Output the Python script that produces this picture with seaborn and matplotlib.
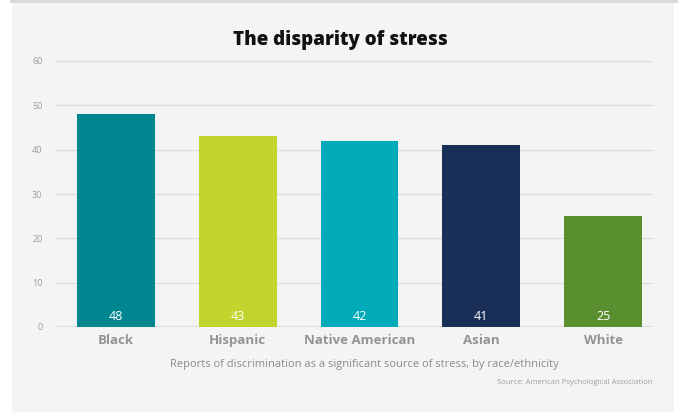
import pandas as pd
import matplotlib.pyplot as plt
import matplotlib.patches as mpatches
import seaborn as sns

groups = ['Black', 'Hispanic', 'Native American', 'Asian', 'White']
values = [48, 43, 42, 41, 25]
colors = ['#00868f', '#c2d52e', '#00aab9', '#1a2f57', '#5a8f30']

df = pd.DataFrame({'group': groups, 'value': values})

sns.set_style('white')
plt.rcParams['font.family'] = ['Open Sans', 'DejaVu Sans']

fig = plt.figure(figsize=(6.78, 4.12), dpi=100, facecolor='white')

# light grey panel and top strip
fig.patches.append(mpatches.Rectangle((12 / 678, 0), (674 - 12) / 678, 1, transform=fig.transFigure,
                                      facecolor='#f4f4f4', edgecolor='none', zorder=-2))
fig.patches.append(mpatches.Rectangle((10 / 678, 1 - 3 / 412), 1, 3 / 412, transform=fig.transFigure,
                                      facecolor='#d9d9d9', edgecolor='none', zorder=-1))

ax = fig.add_axes([55 / 678, 1 - 327 / 412, (653 - 55) / 678, (327 - 61) / 412])
ax.set_facecolor('none')
ax.set_zorder(2)

g = sns.barplot(data=df, x='group', y='value', hue='group', palette=colors,
                legend=False, width=0.64, saturation=1, linewidth=0, edgecolor='none', ax=ax)

ax.set_ylim(0, 60)
ax.set_xlim(-0.5, 4.41)
ax.set_yticks(range(0, 61, 10))
ax.yaxis.grid(True, color='#dcdcdc', linewidth=0.9)
ax.set_axisbelow(True)
for s in ax.spines.values():
    s.set_visible(False)
ax.axhline(0, color='#dcdcdc', linewidth=1.6, zorder=0.5)
ax.tick_params(axis='y', length=0, labelsize=6.5, labelcolor='#9a9a9a', pad=9)
ax.tick_params(axis='x', length=0, labelsize=9.5, labelcolor='#939393', pad=5)
for lbl in ax.get_xticklabels():
    lbl.set_fontweight('bold')
ax.set_xlabel('')
ax.set_ylabel('')

for i, v in enumerate(values):
    ax.text(i, 0.8, str(v), color='white', ha='center', va='bottom', fontsize=9)

fig.text(0.502, 1 - 40 / 412, 'The disparity of stress', ha='center', va='center',
         fontsize=13.5, fontweight='heavy', color='#111111')
fig.text(0.538, 1 - 365 / 412, 'Reports of discrimination as a significant source of stress, by race/ethnicity',
         ha='center', va='center', fontsize=8.0, color='#8a8a8a')
fig.text(653 / 678, 1 - 382 / 412, 'Source: American Psychological Association', ha='right', va='center',
         fontsize=5.6, color='#a0a0a0')

plt.savefig('out.png', dpi=100, facecolor='white')
